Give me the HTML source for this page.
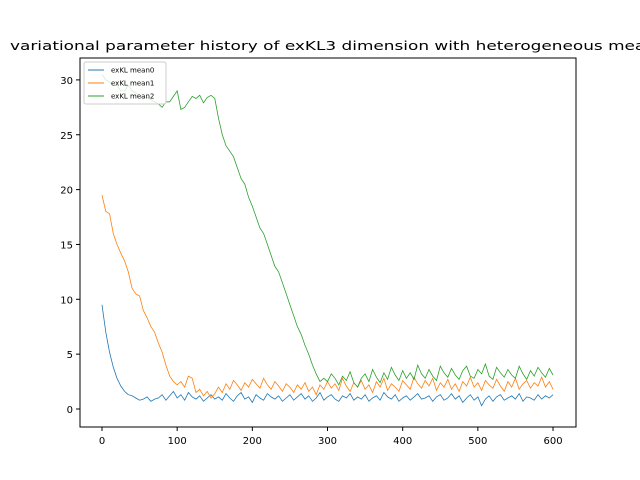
<!DOCTYPE html>
<html><head><meta charset="utf-8"><style>body{margin:0;background:#fff}svg{display:block}text{font-family:"DejaVu Sans","Liberation Sans",sans-serif}</style></head>
<body>
<svg id="chart" width="640" height="480">
<rect x="0" y="0" width="640" height="480" fill="#fff"/>
<text x="10" y="50" font-size="12.5" textLength="646" lengthAdjust="spacingAndGlyphs">variational parameter history of exKL3 dimension with heterogeneous mean</text>
<g id="plot"></g>
</svg>
<script>
const xTicks=[0,100,200,300,400,500,600];
const yTicks=[0,5,10,15,20,25,30];
const steps=[];for(let i=0;i<=600;i+=5)steps.push(i);
const mean0=[9.5,7,5.2,3.8,2.8,2.1,1.6,1.3,1.2,1.0,0.8,0.9,1.1,0.7,0.9,1.0,1.3,0.8,1.2,1.6,1.0,1.3,0.8,1.5,1.1,0.9,1.2,0.7,1.0,1.3,0.9,1.1,0.8,1.4,1.0,0.7,1.2,1.5,0.9,1.1,0.6,1.3,1.0,0.8,1.4,1.1,0.9,1.2,0.7,1.0,1.3,0.8,1.1,1.4,0.9,1.2,0.7,1.0,1.5,0.8,1.1,1.3,0.9,0.7,1.2,1.0,1.4,0.8,1.1,0.9,1.3,0.7,1.0,1.2,0.8,1.5,1.1,0.9,1.3,0.7,1.0,1.2,0.8,1.1,1.4,0.9,1.0,1.2,0.7,1.1,1.3,0.8,1.0,1.4,0.9,1.2,0.6,1.0,1.3,0.8,1.1,0.3,0.9,1.2,0.7,1.1,1.3,0.8,1.0,1.2,0.9,1.4,0.7,1.1,1.0,0.8,1.3,0.9,1.2,1.0,1.3];
const mean1=[19.5,18,17.8,16,15,14.2,13.5,12.5,11,10.5,10.3,9,8.3,7.5,7,6,5.2,4,3,2.5,2.2,2.5,2,3,2.8,1.5,1.8,1.2,1.6,1.0,1.4,2.0,1.5,2.3,1.8,2.6,2.2,1.7,2.4,2.0,2.7,2.3,1.9,2.8,2.2,1.8,2.5,2.1,1.6,2.3,2.0,1.5,2.2,1.8,2.4,1.6,2.0,1.3,2.2,1.8,2.5,1.9,2.3,1.7,2.8,2.1,1.6,2.4,2.0,2.6,1.8,2.2,1.5,2.5,2.0,2.8,1.7,2.3,2.0,1.6,2.6,2.2,1.8,2.9,2.3,1.9,2.6,2.1,2.8,1.7,2.4,2.0,2.7,1.8,2.3,1.6,2.5,2.1,2.9,2.0,2.4,1.7,2.6,2.2,1.9,2.7,2.1,1.6,2.5,2.0,2.8,1.8,2.3,2.6,1.9,2.4,2.1,2.9,2.0,2.5,1.8];
const mean2=[30.5,30,29.8,29.5,29.5,29,29,29.5,29,28.8,28.5,28.3,28.4,28.2,28,27.8,27.5,28,28,28.5,29,27.3,27.5,28,28.5,28.3,28.6,27.9,28.4,28.6,28.3,26.5,25,24,23.5,23,22,21,20.5,19.3,18.5,17.5,16.5,16,15,14,13,12.5,11.5,10.5,9.5,8.5,7.5,6.8,5.8,5,4,3.2,2.5,2.8,2.5,3.2,2.8,2.2,3.0,2.6,3.4,2.4,2.0,2.8,3.2,2.5,3.6,2.9,2.4,3.3,2.7,3.8,3.1,2.6,3.5,2.8,3.3,2.7,4.0,3.2,2.8,3.6,3.0,2.6,3.9,3.3,2.9,3.7,3.1,2.7,3.5,3.9,3.0,2.8,3.6,3.2,4.1,3.0,2.7,3.8,3.3,2.9,3.6,3.1,2.8,3.9,3.2,2.7,3.5,3.0,3.8,3.3,2.9,3.7,3.1];
const names=["exKL mean0","exKL mean1","exKL mean2"];
const colors=["#1f77b4","#ff7f0e","#2ca02c"];
const L=80,R=576,T=58,B=427;
const X=v=>102+v*0.7517;
const Y=v=>409-v*10.97;
const NS="http://www.w3.org/2000/svg";
const g=document.getElementById('plot');
function mk(t,a){const e=document.createElementNS(NS,t);for(const k in a)e.setAttribute(k,a[k]);return e;}
[mean0,mean1,mean2].forEach((s,si)=>{
 const p=mk('polyline',{points:s.map((v,i)=>X(steps[i]).toFixed(1)+','+Y(v).toFixed(1)).join(' '),fill:'none',stroke:colors[si],'stroke-width':0.8});
 
 
 g.appendChild(p);
});
const frame=mk('rect',{x:L,y:T,width:R-L,height:B-T,fill:'none',stroke:'#000','stroke-width':1});


g.appendChild(frame);
xTicks.forEach(v=>{
 g.appendChild(mk('line',{x1:X(v),x2:X(v),y1:B,y2:B+4,stroke:'#000'}));
 const t=mk('text',{x:X(v),y:B+17,'font-size':10,'text-anchor':'middle'});t.textContent=v;
 
 
 g.appendChild(t);
});
yTicks.forEach(v=>{
 g.appendChild(mk('line',{x1:L-4,x2:L,y1:Y(v),y2:Y(v),stroke:'#000'}));
 const t=mk('text',{x:L-7,y:Y(v)+4,'font-size':10,'text-anchor':'end'});t.textContent=v;
 
 
 g.appendChild(t);
});
const lg=mk('g',{});


lg.appendChild(mk('rect',{x:84,y:62,width:82,height:42,rx:2,fill:'#fff','fill-opacity':0.8,stroke:'#ccc'}));
names.forEach((n,i)=>{
 const y=70+i*13;
 lg.appendChild(mk('line',{x1:88,x2:104,y1:y,y2:y,stroke:colors[i],'stroke-width':1}));
 const t=mk('text',{x:111,y:y+2.5,'font-size':7});t.textContent=n;
 
 
 lg.appendChild(t);
});
g.appendChild(lg);
</script>
</body></html>
